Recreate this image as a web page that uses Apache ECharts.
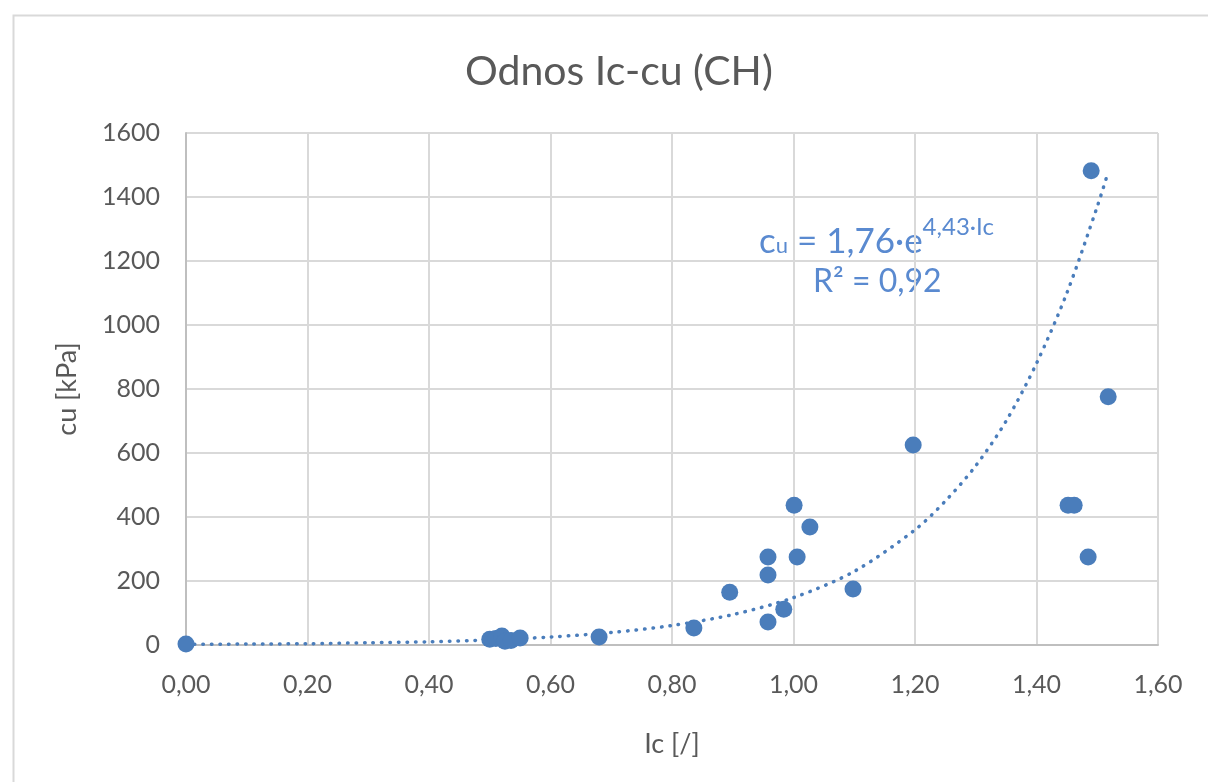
<!DOCTYPE html>
<html>
<head>
<meta charset="utf-8">
<script src="https://cdn.jsdelivr.net/npm/echarts@6/dist/echarts.min.js"></script>
<style>
html,body{margin:0;padding:0;background:#fff;}
#c{width:1208px;height:782px;}
</style>
</head>
<body>
<div id="c"></div>
<script>
// Measured points (Ic [/], cu [kPa])
var icValues = [0.00, 0.50, 0.51, 0.52, 0.525, 0.535, 0.55, 0.68, 0.836, 0.895, 0.958, 0.958, 0.958, 0.984, 1.001, 1.006, 1.027, 1.098, 1.197, 1.452, 1.462, 1.485, 1.490, 1.518];
var cuValues = [3, 18, 20, 28, 12, 14, 22, 25, 53, 165, 275, 219, 72, 112, 437, 275, 369, 175, 625, 437, 437, 275, 1482, 776];

// Exponential trendline
var trendIc = [0.00, 0.10, 0.20, 0.30, 0.40, 0.50, 0.60, 0.70, 0.80, 0.90, 1.00, 1.10, 1.20, 1.25, 1.30, 1.35, 1.40, 1.45, 1.50, 1.518];
var trendCu = [2, 3, 4, 7, 10, 16, 25, 39, 61, 95, 148, 230, 360, 450, 560, 700, 880, 1100, 1370, 1478];

// Axis ticks
var xTicks = [0, 0.2, 0.4, 0.6, 0.8, 1.0, 1.2, 1.4, 1.6];
var yTicks = [0, 200, 400, 600, 800, 1000, 1200, 1400, 1600];

var titleText = 'Odnos Ic-cu (CH)';
var xName = 'Ic [/]';
var yName = 'cu [kPa]';

var FONT = 'Lato, "Open Sans", sans-serif';
var GRAY = '#595959';
var BLUE = '#4a7dbb';
var TXTBLUE = '#5a8ad0';

var scatterData = icValues.map(function(v, i){ return [v, cuValues[i]]; });
var trendData = trendIc.map(function(v, i){ return [v, trendCu[i]]; });

var chart = echarts.init(document.getElementById('c'), null, {renderer: 'canvas'});
chart.setOption({
  animation: false,
  backgroundColor: '#fff',
  textStyle: {fontFamily: FONT},
  title: {
    text: titleText,
    left: 460,
    top: 46,
    textStyle: {fontFamily: FONT, fontSize: 41, fontWeight: 'normal', color: GRAY}
  },
  grid: {left: 186, right: 50, top: 133, bottom: 137, containLabel: false},
  xAxis: {
    type: 'value',
    min: xTicks[0],
    max: xTicks[xTicks.length - 1],
    interval: 0.2,
    name: xName,
    nameLocation: 'middle',
    nameGap: 86,
    nameTextStyle: {fontFamily: FONT, fontSize: 27, color: GRAY},
    axisLine: {show: true, lineStyle: {color: '#bfbfbf', width: 2}},
    axisTick: {show: false},
    axisLabel: {
      margin: 27, fontFamily: FONT, fontSize: 25, color: GRAY,
      formatter: function(v){ return v.toFixed(2).replace('.', ','); }
    },
    splitLine: {show: true, lineStyle: {color: '#d9d9d9', width: 2}}
  },
  yAxis: {
    type: 'value',
    min: yTicks[0],
    max: yTicks[yTicks.length - 1],
    interval: 200,
    name: yName,
    nameLocation: 'middle',
    nameGap: 105,
    nameTextStyle: {fontFamily: FONT, fontSize: 27, color: GRAY},
    axisLine: {show: true, lineStyle: {color: '#bfbfbf', width: 2}},
    axisTick: {show: false},
    axisLabel: {
      margin: 26, fontFamily: FONT, fontSize: 25, color: GRAY,
      formatter: function(v){ return String(v); }
    },
    splitLine: {show: true, lineStyle: {color: '#d9d9d9', width: 2}}
  },
  series: [
    {
      type: 'line',
      data: trendData,
      smooth: 0.3,
      showSymbol: false,
      symbol: 'none',
      z: 3,
      lineStyle: {color: BLUE, width: 3.5, type: [0.5, 8], cap: 'round'}
    },
    {
      type: 'scatter',
      data: scatterData,
      symbol: 'circle',
      symbolSize: 17,
      z: 4,
      itemStyle: {color: BLUE, opacity: 1}
    }
  ],
  graphic: [
    {
      type: 'rect',
      left: 11, top: 13,
      shape: {x: 0, y: 0, width: 1220, height: 800},
      style: {fill: 'none', stroke: '#d9d9d9', lineWidth: 2},
      silent: true, z: -1
    },
    {
      type: 'text',
      left: 759, top: 213,
      style: {
        text: '{m|c}{s|u}{m| = 1,76·e}{p|4,43·Ic}',
        rich: {
          m: {fontFamily: FONT, fontSize: 35, fill: TXTBLUE, lineHeight: 46, verticalAlign: 'bottom'},
          s: {fontFamily: FONT, fontSize: 22, fill: TXTBLUE, lineHeight: 46, verticalAlign: 'bottom', padding: [0, 0, 2, 0]},
          p: {fontFamily: FONT, fontSize: 24, fill: TXTBLUE, lineHeight: 46, verticalAlign: 'top', padding: [2, 0, 0, 0]}
        }
      }
    },
    {
      type: 'text',
      left: 813, top: 266,
      style: {
        text: 'R² = 0,92',
        fontFamily: FONT, fontSize: 32, fill: TXTBLUE
      }
    }
  ]
});
</script>
</body>
</html>
